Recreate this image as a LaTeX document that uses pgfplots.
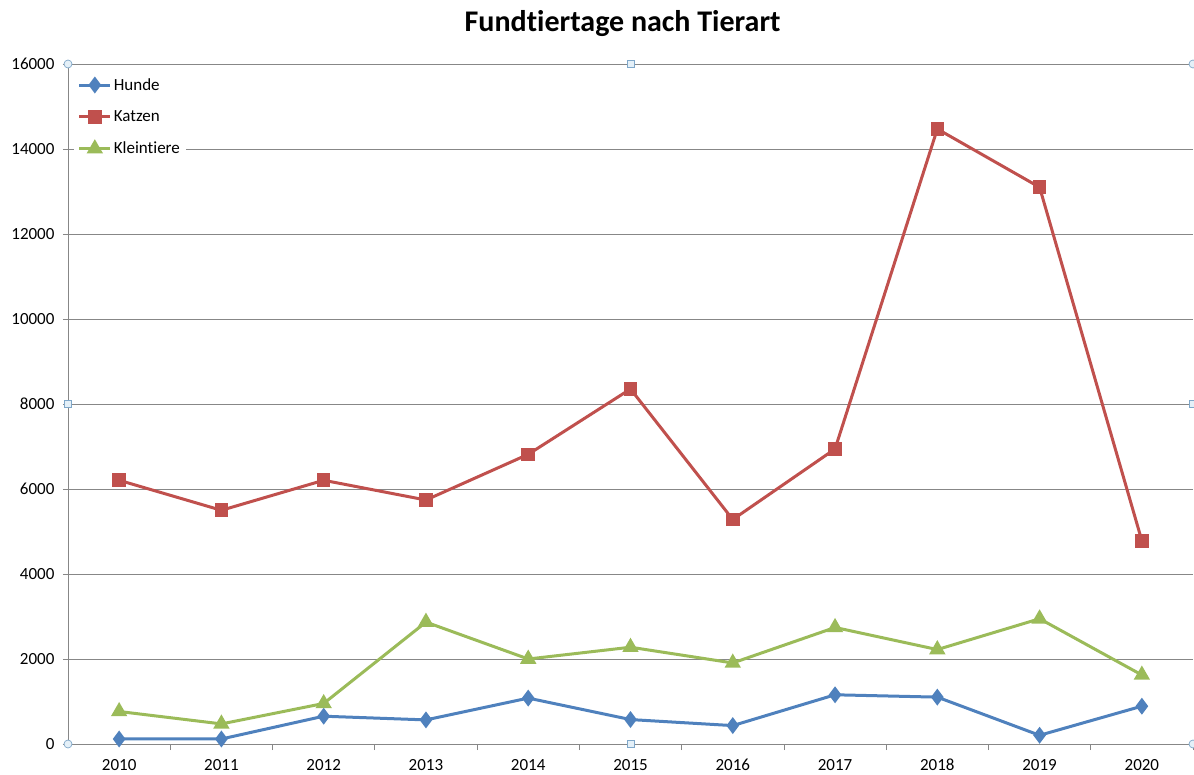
\documentclass[border=0pt]{standalone}
\usepackage{fontspec}
\setmainfont{Carlito}[RawFeature={-liga}]
\usepackage{pgfplots}
\pgfplotsset{compat=1.18}
\definecolor{hunde}{HTML}{4F81BD}
\definecolor{katzen}{HTML}{C0504D}
\definecolor{klein}{HTML}{9BBB59}
\definecolor{gridc}{HTML}{878787}
\definecolor{handle}{HTML}{7FA7C9}
\definecolor{handlefill}{HTML}{E4F0F8}
\tikzset{hc/.style={circle, draw=handle, fill=handlefill, line width=0.7pt, inner sep=0pt, minimum size=8pt},
         hs/.style={rectangle, draw=handle, fill=handlefill, line width=0.7pt, inner sep=0pt, minimum size=7pt}}
\begin{document}
\begin{tikzpicture}
\useasboundingbox (-68pt,-30pt) rectangle (1126pt,744pt);
\begin{axis}[
  scale only axis,
  width=1125pt, height=680pt,
  xmin=-0.5, xmax=10.5,
  ymin=0, ymax=16000,
  xtick={0,...,10},
  xticklabels={2010,2011,2012,2013,2014,2015,2016,2017,2018,2019,2020},
  minor xtick={0.5,1.5,...,10.5},
  ytick={0,2000,...,16000},
  scaled y ticks=false,
  /pgf/number format/assume math mode=true,
  yticklabel={\pgfmathprintnumber[fixed,1000 sep={}]{\tick}},
  tick align=outside,
  major tick length=5pt,
  minor tick length=6pt,
  x tick style={draw=none},
  minor x tick style={draw=gridc, line width=0.8pt},
  y tick style={draw=gridc, line width=0.8pt},
  ymajorgrids,
  grid style={gridc, line width=0.9pt},
  axis x line*=bottom,
  axis y line*=left,
  axis line style={gridc, line width=0.9pt},
  tick label style={font=\fontsize{17}{20}\selectfont, text=black},
  xticklabel style={yshift=-7pt, text height=11pt, text depth=0pt},
  yticklabel style={xshift=-5pt},
  title={Fundtiertage nach Tierart},
  title style={font=\bfseries\fontsize{30}{34}\selectfont, at={(axis description cs:0.493,1)}, anchor=center, yshift=34pt},
  legend style={at={(axis description cs:0.005,0.988)}, anchor=north west, draw=none, fill=white,
    font=\fontsize{17}{20}\selectfont, row sep=15pt, inner sep=4pt},
  legend cell align=left,
  legend image code/.code={\draw[mark repeat=2,mark phase=2] plot coordinates {(0pt,0pt) (15.5pt,0pt) (31pt,0pt)};},
  every axis plot/.append style={line width=3pt},
  clip=false,
]
\addplot[color=hunde, mark=diamond*, mark size=6pt, mark options={solid}] coordinates {
(0,118) (1,118) (2,654) (3,567) (4,1080) (5,575) (6,433) (7,1158) (8,1103) (9,205) (10,890)};
\addlegendentry{Hunde}
\addplot[color=katzen, mark=square*, mark size=5.3pt] coordinates {
(0,6205) (1,5499) (2,6205) (3,5741) (4,6816) (5,8353) (6,5282) (7,6942) (8,14471) (9,13100) (10,4782)};
\addlegendentry{Katzen}
\addplot[color=klein, mark=triangle*, mark size=6.5pt] coordinates {
(0,765) (1,473) (2,954) (3,2868) (4,2000) (5,2277) (6,1907) (7,2742) (8,2222) (9,2947) (10,1624)};
\addlegendentry{Kleintiere}
\node[hc] at (axis description cs:0,0) {};
\node[hc] at (axis description cs:0,1) {};
\node[hc] at (axis description cs:1,0) {};
\node[hc] at (axis description cs:1,1) {};
\node[hs] at (axis description cs:0.5,0) {};
\node[hs] at (axis description cs:0.5,1) {};
\node[hs] at (axis description cs:0,0.5) {};
\node[hs] at (axis description cs:1,0.5) {};
\end{axis}
\end{tikzpicture}
\end{document}
